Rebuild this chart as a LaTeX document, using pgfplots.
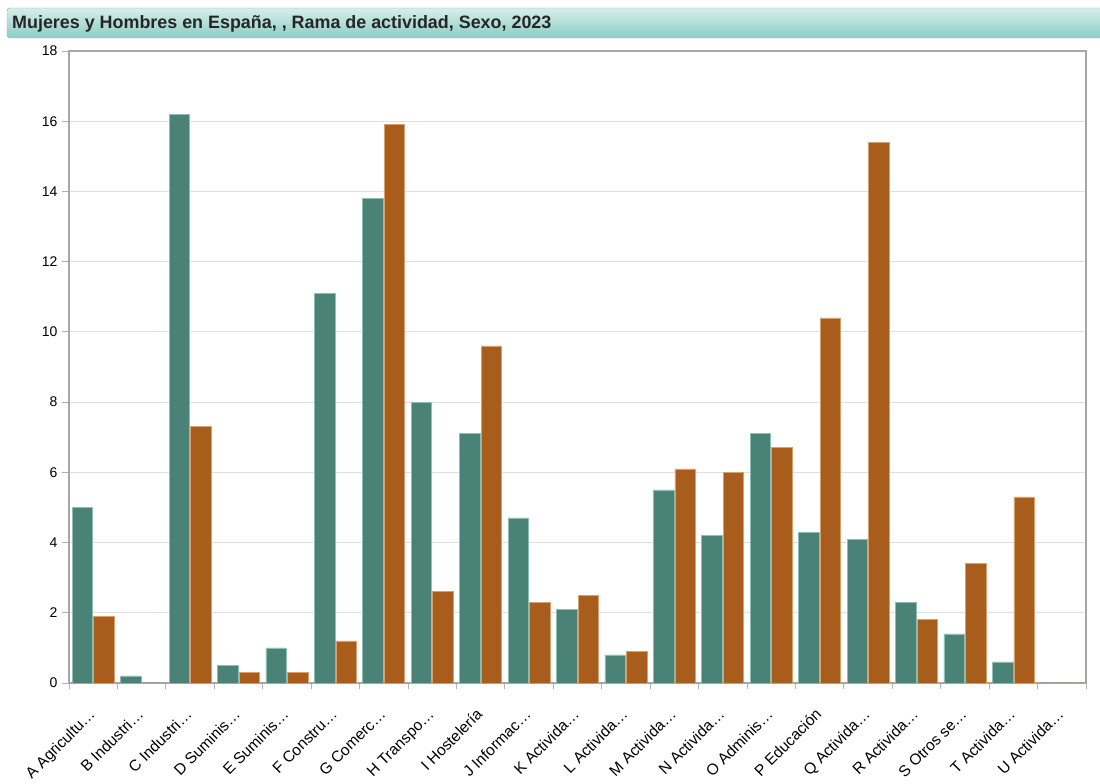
\documentclass[border=0pt]{standalone}
\usepackage{pgfplots}
\pgfplotsset{compat=1.18}
\usepackage{fontspec}
\setmainfont{Liberation Sans}
\definecolor{mgreen}{RGB}{74,130,120}
\definecolor{mgreenE}{RGB}{140,190,180}
\definecolor{morange}{RGB}{168,93,28}
\definecolor{morangeE}{RGB}{215,160,110}
\definecolor{ttop}{RGB}{214,238,235}
\definecolor{tbot}{RGB}{140,205,197}
\begin{document}
\begin{tikzpicture}[x=1pt,y=1pt]
\useasboundingbox (0,0) rectangle (1100,784);
\shade[top color=ttop, bottom color=tbot, draw=gray!70, rounded corners=3pt] (7,746) rectangle (1106,776);
\node[anchor=base west, inner sep=0pt, font=\fontsize{17.9}{21}\selectfont\bfseries, text=black!85] at (12,755) {Mujeres y Hombres en España, , Rama de actividad, Sexo, 2023};
\begin{axis}[
  at={(69pt,101pt)}, anchor=south west,
  scale only axis, width=1017pt, height=632pt,
  xmin=-0.5, xmax=20.5, ymin=0, ymax=18,
  ytick={0,2,...,18},
  xtick={0,...,20},
  xticklabels={A Agricultu…,B Industri…,C Industri…,D Suminis…,E Suminis…,F Constru…,G Comerc…,H Transpo…,I Hostelería,J Informac…,K Activida…,L Activida…,M Activida…,N Activida…,O Adminis…,P Educación,Q Activida…,R Activida…,S Otros se…,T Activida…,U Activida…},
  minor xtick={-0.5,0.5,...,20.5},
  major x tick style={draw=none},
  minor x tick style={draw=gray!60, line width=0.8pt},
  minor tick length=6pt,
  major tick length=7pt,
  tick align=outside,
  tick pos=left,
  ytick style={draw=gray!60, line width=0.8pt},
  ymajorgrids, grid style={draw=gray!25, line width=0.8pt},
  axis line style={draw=gray!70, line width=1.6pt},
  xticklabel style={rotate=45, anchor=base east, font=\fontsize{15.5}{17}\selectfont, inner sep=0pt, yshift=-20pt, xshift=-16pt},
  yticklabel style={font=\fontsize{14}{16}\selectfont, xshift=-1pt},
  /pgf/number format/assume math mode=true,
]
\addplot[ybar, bar width=20.5pt, bar shift=-10.75pt, fill=mgreen, draw=mgreenE, line width=0.6pt] coordinates {
(0,5.0) (1,0.2) (2,16.2) (3,0.5) (4,1.0) (5,11.1) (6,13.8) (7,8.0) (8,7.1) (9,4.7) (10,2.1) (11,0.8) (12,5.5) (13,4.2) (14,7.1) (15,4.3) (16,4.1) (17,2.3) (18,1.4) (19,0.6) (20,0)};
\addplot[ybar, bar width=20.5pt, bar shift=10.75pt, fill=morange, draw=morangeE, line width=0.6pt] coordinates {
(0,1.9) (1,0) (2,7.3) (3,0.3) (4,0.3) (5,1.2) (6,15.9) (7,2.6) (8,9.6) (9,2.3) (10,2.5) (11,0.9) (12,6.1) (13,6.0) (14,6.7) (15,10.4) (16,15.4) (17,1.8) (18,3.4) (19,5.3) (20,0)};
\end{axis}
\end{tikzpicture}
\end{document}
